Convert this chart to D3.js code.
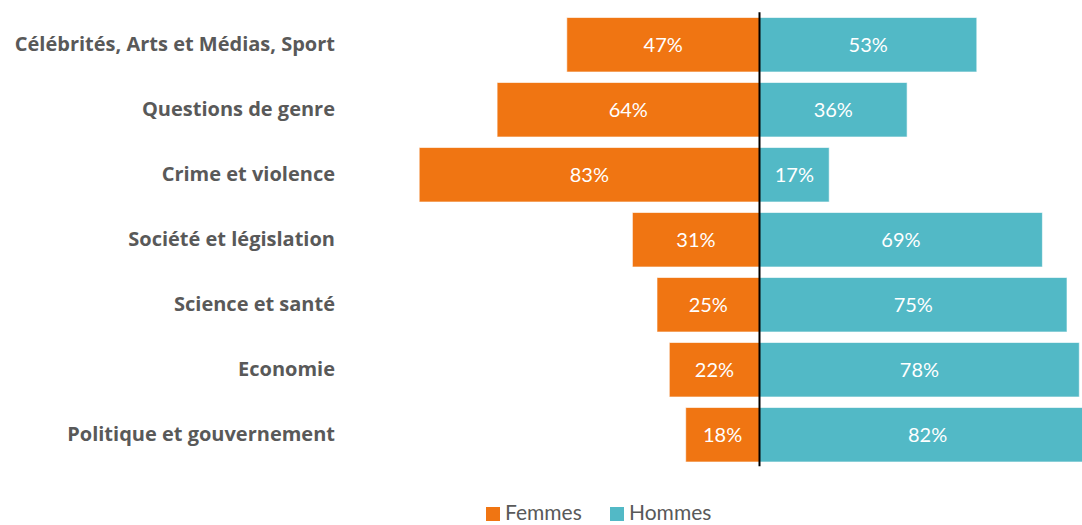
<!DOCTYPE html>
<html>
<head>
<meta charset="utf-8">
<script src="https://cdn.jsdelivr.net/npm/d3@7"></script>
<style>
  html, body { margin: 0; padding: 0; background: #fff; overflow: hidden; }
  svg { display: block; }
</style>
</head>
<body>
<svg id="chart" width="1082" height="525"></svg>
<script>
const categories = ["Célébrités, Arts et Médias, Sport", "Questions de genre", "Crime et violence", "Société et législation", "Science et santé", "Economie", "Politique et gouvernement"];
const femmes = [47, 64, 83, 31, 25, 22, 18];
const hommes = [53, 36, 17, 69, 75, 78, 82];
const seriesNames = ["Femmes", "Hommes"];
const colors = ["#F07512", "#52B9C6"];

const svg = d3.select("#chart");
const font = "'Open Sans', Lato, sans-serif";
const valueFont = "Lato, 'Open Sans', sans-serif";

const x = d3.scaleLinear().domain([-100, 100]).range([349.5, 1169.5]);
const y = d3.scaleBand().domain(categories).range([12.25, 467.25]).paddingInner(0.162).paddingOuter(0.081);

const rows = categories.map((c, i) => ({ cat: c, f: femmes[i], h: hommes[i] }));

const g = svg.append("g");

// Femmes bars (left)
g.selectAll("rect.f").data(rows).join("rect")
  .attr("class", "f")
  .attr("x", d => x(-d.f))
  .attr("y", d => y(d.cat))
  .attr("width", d => x(0) - x(-d.f))
  .attr("height", y.bandwidth())
  .attr("fill", colors[0])
  .attr("stroke", "#fff").attr("stroke-opacity", 0.6).attr("stroke-width", 1);

// Hommes bars (right)
g.selectAll("rect.h").data(rows).join("rect")
  .attr("class", "h")
  .attr("x", x(0))
  .attr("y", d => y(d.cat))
  .attr("width", d => x(d.h) - x(0))
  .attr("height", y.bandwidth())
  .attr("fill", colors[1])
  .attr("stroke", "#fff").attr("stroke-opacity", 0.6).attr("stroke-width", 1);

// value labels
g.selectAll("text.fv").data(rows).join("text")
  .attr("class", "fv")
  .attr("x", d => (x(-d.f) + x(0)) / 2)
  .attr("y", d => y(d.cat) + y.bandwidth() / 2)
  .attr("dy", "0.35em")
  .attr("text-anchor", "middle")
  .attr("fill", "#fff")
  .style("font-family", valueFont).style("font-size", "20px")
  .text(d => d.f + "%");

g.selectAll("text.hv").data(rows).join("text")
  .attr("class", "hv")
  .attr("x", d => (x(d.h) + x(0)) / 2)
  .attr("y", d => y(d.cat) + y.bandwidth() / 2)
  .attr("dy", "0.35em")
  .attr("text-anchor", "middle")
  .attr("fill", "#fff")
  .style("font-family", valueFont).style("font-size", "20px")
  .text(d => d.h + "%");

// center line
g.append("line")
  .attr("x1", x(0)).attr("x2", x(0))
  .attr("y1", y.range()[0]).attr("y2", y.range()[1] - 1)
  .attr("stroke", "#000").attr("stroke-width", 2);

// category labels (y axis)
const yAxis = d3.axisLeft(y).tickSize(0).tickPadding(0);
const ya = svg.append("g").attr("transform", "translate(335,0)").call(yAxis);
ya.select(".domain").remove();
ya.selectAll("text")
  .attr("fill", "#595959")
  .style("font-family", font).style("font-size", "20px").style("font-weight", "bold");

// legend
const legend = svg.append("g");
const legendX = [486, 610];
seriesNames.forEach((s, i) => {
  legend.append("rect")
    .attr("x", legendX[i]).attr("y", 507)
    .attr("width", 14).attr("height", 14)
    .attr("fill", colors[i]);
  legend.append("text")
    .attr("x", legendX[i] + 19).attr("y", 520)
    .attr("fill", "#595959")
    .style("font-family", valueFont).style("font-size", "21px")
    .text(s);
});
</script>
</body>
</html>
